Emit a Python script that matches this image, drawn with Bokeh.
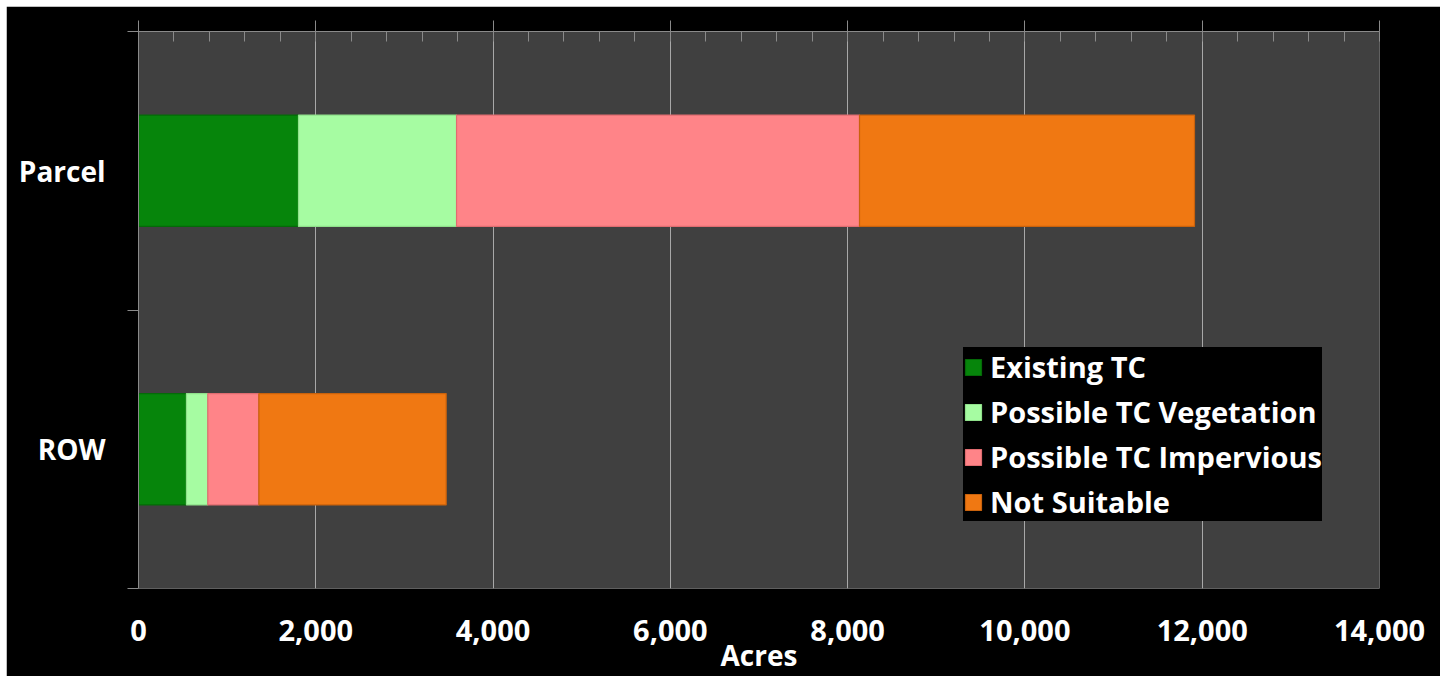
from bokeh.plotting import figure
from bokeh.models import (Range1d, FixedTicker, LinearAxis, Legend, LegendItem,
                          NumeralTickFormatter, CustomJSTickFormatter, Grid, ColumnDataSource)
from bokeh.embed import file_html
from bokeh.resources import INLINE

categories = ["ROW", "Parcel"]
series = ["Existing TC", "Possible TC Vegetation", "Possible TC Impervious", "Not Suitable"]
existing_tc = [541, 1805]
possible_veg = [241, 1783]
possible_imperv = [576, 4546]
not_suitable = [2113, 3779]
x_ticks = [0, 2000, 4000, 6000, 8000, 10000, 12000, 14000]
x_minor_step = 400

colors = ["#06850b", "#a6fca2", "#ff8488", "#f07812"]
edges = ["#046a08", "#8fe08a", "#e06c70", "#c9620c"]
FONT = "Open Sans"

ypos = [i + 0.5 for i in range(len(categories))]
keys = ["existing", "veg", "imperv", "notsuit"]
src = ColumnDataSource(dict(y=ypos, existing=existing_tc, veg=possible_veg,
                            imperv=possible_imperv, notsuit=not_suitable))

p = figure(width=1434, height=670, output_backend="svg", toolbar_location=None,
           x_range=Range1d(0, x_ticks[-1]), y_range=Range1d(0, len(categories)),
           x_axis_location=None, y_axis_location=None,
           min_border_left=132, min_border_right=61, min_border_top=25, min_border_bottom=87)
p.margin = (6, 7, 0, 6)
p.background_fill_color = "#404040"
p.border_fill_color = "#000000"
p.outline_line_color = None
p.xgrid.visible = False
p.ygrid.visible = False

renderers = p.hbar_stack(keys, y="y", height=0.4, source=src,
                         fill_color=colors, line_color=edges, line_width=1.2)

minor = list(range(0, x_ticks[-1] + 1, x_minor_step))
grid = Grid(dimension=0, ticker=FixedTicker(ticks=x_ticks), grid_line_color="#a8a8a8", grid_line_width=1)
p.add_layout(grid)

axis_col = "#8a8a8a"
top = LinearAxis(ticker=FixedTicker(ticks=x_ticks, minor_ticks=minor))
top.axis_line_color = axis_col
top.major_tick_line_color = axis_col
top.minor_tick_line_color = axis_col
top.major_tick_out = 11
top.major_tick_in = 0
top.minor_tick_in = 10
top.minor_tick_out = 0
top.major_label_text_font_size = "0px"
top.major_label_standoff = 0
p.add_layout(top, "above")

bottom = LinearAxis(ticker=FixedTicker(ticks=x_ticks), formatter=NumeralTickFormatter(format="0,0"))
bottom.axis_line_color = None
bottom.major_tick_line_color = None
bottom.minor_tick_line_color = None
bottom.major_tick_out = 0
bottom.major_tick_in = 0
bottom.major_label_standoff = 31
bottom.major_label_text_font = FONT
bottom.major_label_text_font_style = "bold"
bottom.major_label_text_font_size = "29px"
bottom.major_label_text_color = "white"
bottom.axis_label = "Acres"
bottom.axis_label_text_font = FONT
bottom.axis_label_text_font_style = "bold"
bottom.axis_label_text_font_size = "28px"
bottom.axis_label_text_color = "white"
bottom.axis_label_standoff = -8
p.add_layout(bottom, "below")

left = LinearAxis(ticker=FixedTicker(ticks=ypos, minor_ticks=list(range(len(categories) + 1))),
                  formatter=CustomJSTickFormatter(args=dict(cats=categories),
                                                  code="return cats[Math.floor(tick)] || ''"))
left.axis_line_color = axis_col
left.major_tick_line_color = None
left.major_tick_out = 0
left.major_tick_in = 0
left.minor_tick_line_color = axis_col
left.minor_tick_out = 11
left.minor_tick_in = 0
left.major_label_standoff = 22
left.major_label_text_font = FONT
left.major_label_text_font_style = "bold"
left.major_label_text_font_size = "28px"
left.major_label_text_color = "white"
p.add_layout(left, "left")

legend = Legend(items=[LegendItem(label=s, renderers=[r]) for s, r in zip(series, renderers)],
                location=(825, 67), orientation="vertical")
legend.background_fill_color = "black"
legend.background_fill_alpha = 1
legend.border_line_color = None
legend.padding = 16
legend.margin = 0
legend.spacing = 6
legend.glyph_width = 20
legend.glyph_height = 20
legend.label_height = 20
legend.label_standoff = 7
legend.label_text_font = FONT
legend.label_text_font_style = "bold"
legend.label_text_font_size = "29px"
legend.label_text_color = "white"
legend.label_text_baseline = "middle"
p.add_layout(legend, "center")

open("out.html", "w").write(file_html(p, INLINE))
